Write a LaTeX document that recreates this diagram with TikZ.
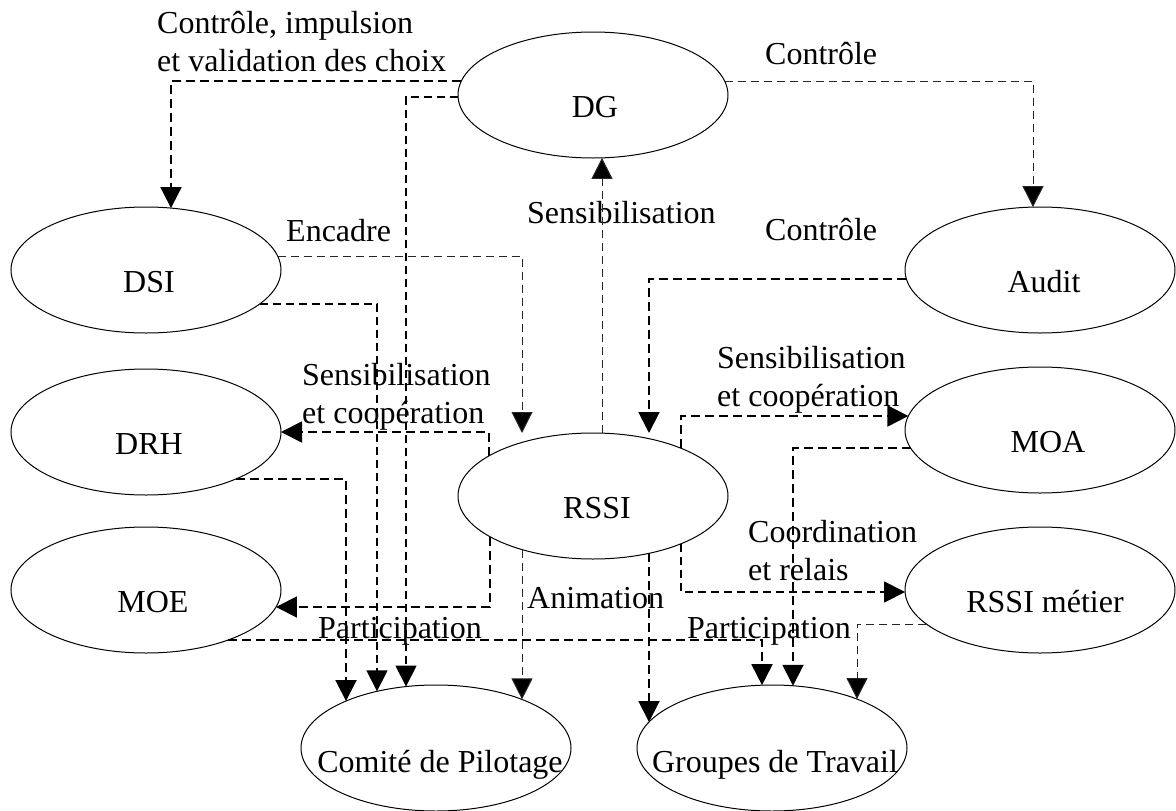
\documentclass[tikz,border=0pt]{standalone}
\usepackage{fontspec}
\setmainfont{Liberation Serif}
\usetikzlibrary{calc,arrows.meta,shapes.geometric}
\begin{document}
\begin{tikzpicture}[x=1pt,y=-1pt,
  declare function={hy(\t)=63*sqrt(1-(\t/135)^2);hx(\t)=135*sqrt(1-(\t/63)^2);},
  ell/.style={draw, line width=1pt, ellipse, minimum width=270pt, minimum height=126pt, inner sep=0pt},
  lbl/.style={inner sep=0pt, font=\fontsize{32}{38}\selectfont, align=left},
  tip/.style={-{Triangle[length=21pt,width=21pt,fill=black]}},
  thk/.style={tip, line width=1.9pt, dash pattern=on 9pt off 5pt},
  med/.style={tip, line width=1.4pt, dash pattern=on 8pt off 5pt},
  thn/.style={tip, line width=1pt, black!85, dash pattern=on 8pt off 5pt}
]
\useasboundingbox (0,0) rectangle (1176,811);

% entities
\node[ell] (DG) at (593,95) {};
\node[ell] (DSI) at (146,270) {};
\node[ell] (Audit) at (1040,270) {};
\node[ell] (DRH) at (146,432) {};
\node[ell] (MOA) at (1040,430) {};
\node[ell] (RSSI) at (593,496) {};
\node[ell] (MOE) at (146,590) {};
\node[ell] (RSSIm) at (1040,590) {};
\node[ell] (Comite) at (436,748) {};
\node[ell] (Groupes) at (772,748) {};

% entity names
\node[lbl, anchor=base] (tDG) at ($(DG.center)+(2,22)$) {DG};
\node[lbl, anchor=base] (tDSI) at ($(DSI.center)+(3,22)$) {DSI};
\node[lbl, anchor=base] (tAudit) at ($(Audit.center)+(4,22)$) {Audit};
\node[lbl, anchor=base] (tDRH) at ($(DRH.center)+(3,22)$) {DRH};
\node[lbl, anchor=base] (tMOA) at ($(MOA.center)+(8,22)$) {MOA};
\node[lbl, anchor=base] (tRSSI) at ($(RSSI.center)+(4,22)$) {RSSI};
\node[lbl, anchor=base] (tMOE) at ($(MOE.center)+(7,22)$) {MOE};
\node[lbl, anchor=base] (tRSSIm) at ($(RSSIm.center)+(5,22)$) {RSSI métier};
\node[lbl, anchor=base] (tComite) at ($(Comite.center)+(4,24)$) {Comité de Pilotage};
\node[lbl, anchor=base] (tGroupes) at ($(Groupes.center)+(3,24)$) {Groupes de Travail};

% connector labels (base = baseline of the last line)
\node[lbl, anchor=base west] (lCtrlImp) at (157,71) {Contrôle, impulsion\\et validation des choix};
\node[lbl, anchor=base west] (lCtrlA) at (765,64) {Contrôle};
\node[lbl, anchor=base west] (lEncadre) at (286,241) {Encadre};
\node[lbl, anchor=base west] (lSensDG) at (527,223) {Sensibilisation};
\node[lbl, anchor=base west] (lCtrlB) at (765,240) {Contrôle};
\node[lbl, anchor=base west] (lSensL) at (302,423) {Sensibilisation\\et coopération};
\node[lbl, anchor=base west] (lSensR) at (717,406) {Sensibilisation\\et coopération};
\node[lbl, anchor=base west] (lCoord) at (748,580) {Coordination\\et relais};
\node[lbl, anchor=base west] (lAnim) at (527,608) {Animation};
\node[lbl, anchor=base west] (lPartL) at (318,638) {Participation};
\node[lbl, anchor=base west] (lPartR) at (687,638) {Participation};

% connectors
\draw[thk] ($(DG.center)+({-hx(-14)},-14)$) -| ($(DSI.center)+(25,{-hy(25)})$);
\draw[med] ($(DG.center)+({-hx(2)},2)$) -| ($(Comite.center)+(-30,{-hy(-30)})$);
\draw[thn] ($(DG.center)+({hx(-14)},-14)$) -| ($(Audit.center)+(-7,{-hy(-7)})$);
\draw[thn] ($(RSSI.center)+(9,{-hy(9)})$) -- ($(DG.center)+(9,{hy(9)})$);
\draw[thn] ($(DSI.center)+({hx(-14)},-14)$) -| ($(RSSI.center)+(-71,-63)$);
\draw[med] ($(DSI.center)+({hx(34)},34)$) -| ($(Comite.center)+(-59,{-hy(-59)})$);
\draw[thk] ($(Audit.center)+({-hx(9)},9)$) -| ($(RSSI.center)+(56,-63)$);
\draw[thk] ($(RSSI.center)+(-104,{-hy(-104)})$) |- ($(DRH.center)+({hx(0)},0)$);
\draw[thk] ($(DRH.center)+({hx(47)},47)$) -| ($(Comite.center)+(-90,{-hy(-90)})$);
\draw[thk] ($(RSSI.center)+(-103,{hy(-103)})$) |- ($(MOE.center)+({hx(17)},17)$);
\draw[thn] ($(RSSI.center)+(-71,{hy(-71)})$) -- ($(Comite.center)+(86,{-hy(86)})$);
\draw[thk] ($(RSSI.center)+(56,{hy(56)})$) -- ($(Groupes.center)+(-123,{-hy(-123)})$);
\draw[thk] ($(MOE.center)+({hx(50)},50)$) -| ($(Groupes.center)+(-10,{-hy(-10)})$);
\draw[thk] ($(RSSI.center)+(88,{-hy(88)})$) |- ($(MOA.center)+({-hx(-14)},-14)$);
\draw[thk] ($(MOA.center)+({-hx(18)},18)$) -| ($(Groupes.center)+(21,{-hy(21)})$);
\draw[med] ($(RSSI.center)+(88,{hy(88)})$) |- ($(RSSIm.center)+({-hx(2)},2)$);
\draw[thn] ($(RSSIm.center)+({-hx(34)},34)$) -| ($(Groupes.center)+(85,{-hy(85)})$);
\end{tikzpicture}
\end{document}
